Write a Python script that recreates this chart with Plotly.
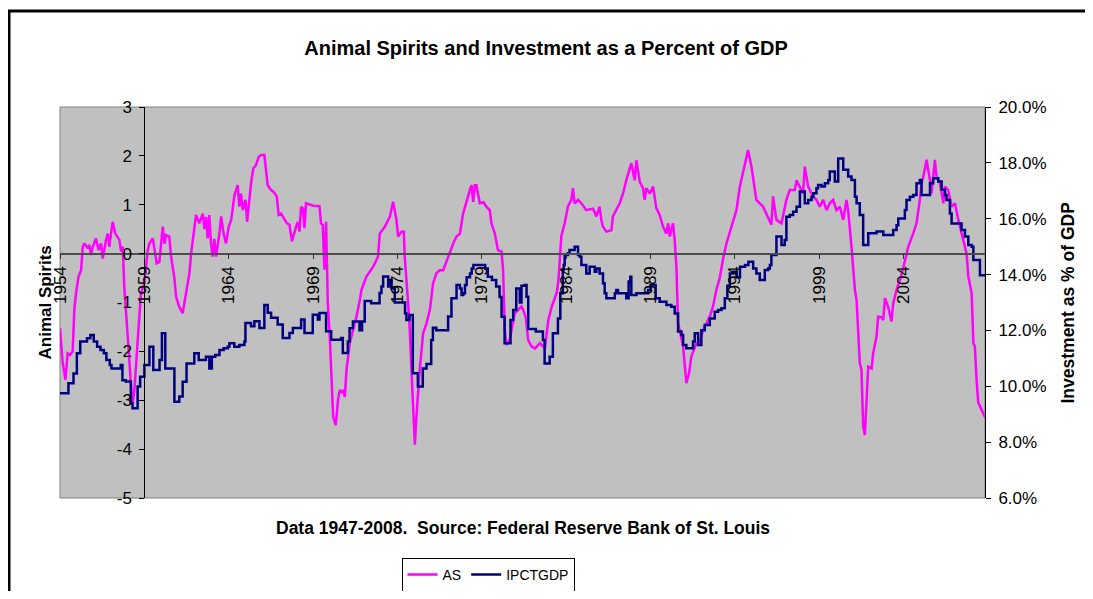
import plotly.graph_objects as go

# --------------------------------------------
# Data (year, value)
# --------------------------------------------
as_years = [
    1954.0, 1954.15, 1954.32, 1954.45, 1954.6, 1954.75, 1954.85, 1954.95, 1955.1, 1955.25,
    1955.35, 1955.45, 1955.64, 1955.74, 1955.84, 1955.94, 1956.13, 1956.29, 1956.43, 1956.53,
    1956.73, 1956.83, 1956.92, 1957.12, 1957.28, 1957.52, 1957.62, 1957.72, 1957.81, 1957.95,
    1958.07, 1958.21, 1958.31, 1958.41, 1958.5, 1958.7, 1958.8, 1959.0, 1959.1, 1959.2,
    1959.3, 1959.5, 1959.73, 1959.89, 1960.09, 1960.2, 1960.28, 1960.48, 1960.58, 1960.78,
    1960.88, 1961.07, 1961.27, 1961.47, 1961.67, 1961.77, 1961.96, 1962.06, 1962.26, 1962.46,
    1962.56, 1962.66, 1962.75, 1962.85, 1962.95, 1963.05, 1963.15, 1963.25, 1963.45, 1963.55,
    1963.7, 1963.84, 1964.0, 1964.15, 1964.34, 1964.53, 1964.63, 1964.73, 1964.83, 1964.99,
    1965.09, 1965.2, 1965.32, 1965.46, 1965.6, 1965.78, 1965.92, 1966.11, 1966.31, 1966.51,
    1966.7, 1966.85, 1966.96, 1967.1, 1967.3, 1967.45, 1967.6, 1967.75, 1967.99, 1968.1,
    1968.19, 1968.29, 1968.4, 1968.49, 1968.58, 1968.8, 1969.0, 1969.38, 1969.47, 1969.57,
    1969.67, 1969.77, 1969.87, 1969.99, 1970.09, 1970.19, 1970.34, 1970.48, 1970.58, 1970.68,
    1970.78, 1970.88, 1970.98, 1971.17, 1971.37, 1971.57, 1971.77, 1971.87, 1972.16, 1972.56,
    1972.85, 1972.95, 1973.25, 1973.55, 1973.74, 1973.94, 1974.04, 1974.24, 1974.38, 1974.43,
    1974.63, 1974.73, 1974.83, 1974.93, 1975.03, 1975.13, 1975.32, 1975.52, 1975.72, 1975.92,
    1976.11, 1976.31, 1976.51, 1976.71, 1977.0, 1977.3, 1977.5, 1977.7, 1977.89, 1978.1,
    1978.29, 1978.39, 1978.49, 1978.58, 1978.68, 1978.88, 1979.1, 1979.27, 1979.47, 1979.57,
    1979.77, 1979.96, 1980.17, 1980.26, 1980.36, 1980.46, 1980.65, 1980.95, 1981.15, 1981.35,
    1981.45, 1981.6, 1981.75, 1981.95, 1982.15, 1982.45, 1982.74, 1982.94, 1983.14, 1983.44,
    1983.54, 1983.71, 1983.91, 1984.1, 1984.3, 1984.4, 1984.5, 1984.7, 1984.9, 1985.19,
    1985.59, 1985.79, 1985.98, 1986.08, 1986.18, 1986.38, 1986.68, 1986.77, 1987.17, 1987.37,
    1987.56, 1987.86, 1988.06, 1988.16, 1988.36, 1988.55, 1988.65, 1988.75, 1988.95, 1989.15,
    1989.34, 1989.54, 1989.74, 1989.94, 1990.04, 1990.14, 1990.33, 1990.43, 1990.53, 1990.63,
    1990.93, 1991.12, 1991.28, 1991.42, 1991.72, 1991.91, 1992.11, 1992.51, 1992.7, 1992.9,
    1993.1, 1993.3, 1993.5, 1993.79, 1994.09, 1994.29, 1994.58, 1994.78, 1994.98, 1995.18,
    1995.27, 1995.67, 1995.87, 1996.16, 1996.26, 1996.46, 1996.76, 1997.05, 1997.25, 1997.55,
    1997.65, 1997.85, 1998.04, 1998.14, 1998.34, 1998.64, 1998.83, 1999.03, 1999.23, 1999.43,
    1999.62, 1999.82, 2000.02, 2000.22, 2000.42, 2000.61, 2000.71, 2000.91, 2001.01, 2001.11,
    2001.21, 2001.4, 2001.5, 2001.6, 2001.7, 2001.8, 2001.9, 2002.1, 2002.19, 2002.39,
    2002.49, 2002.69, 2002.79, 2002.89, 2003.08, 2003.28, 2003.38, 2003.58, 2003.78, 2003.97,
    2004.07, 2004.27, 2004.57, 2004.76, 2004.96, 2005.06, 2005.16, 2005.36, 2005.56, 2005.65,
    2005.85, 2005.95, 2006.15, 2006.35, 2006.45, 2006.64, 2006.84, 2007.04, 2007.24, 2007.43,
    2007.73, 2007.83, 2008.03, 2008.13, 2008.22, 2008.32, 2008.42, 2008.52, 2008.72, 2008.82,
]
as_values = [
    -1.53, -2.2, -2.58, -2.04, -2.07, -2.0, -1.15, -0.81, -0.47, -0.34,
    0.14, 0.21, 0.11, 0.18, -0.03, 0.14, 0.31, 0.07, 0.21, -0.10,
    0.28, 0.41, 0.14, 0.65, 0.41, 0.28, 0.04, 0.14, -0.68, -1.29,
    -1.97, -2.72, -3.06, -2.79, -2.24, -1.29, -0.81, -0.61, -0.27, 0.07,
    0.21, 0.31, -0.2, -0.17, 0.55, 0.2, 0.38, 0.35, -0.06, -0.5,
    -0.88, -1.09, -1.22, -0.82, -0.4, 0.0, 0.55, 0.79, 0.62, 0.82,
    0.5, 0.75, 0.31, 0.79, 0.2, -0.06, 0.3, -0.06, 0.42, 0.76,
    0.4, 0.21, 0.55, 0.7, 1.2, 1.4, 0.96, 1.23, 0.89, 1.10,
    0.65, 1.1, 1.43, 1.75, 1.8, 1.98, 2.02, 2.02, 1.4, 1.3,
    1.25, 1.16, 0.79, 0.82, 0.72, 0.62, 0.59, 0.25, 0.55, 0.65,
    0.45, 0.96, 0.92, 0.52, 1.03, 1.0, 0.98, 0.97, 0.62, 0.59,
    -0.33, 0.65, -1.0, -1.7, -2.72, -3.34, -3.51, -2.99, -2.79, -2.85,
    -2.79, -2.93, -2.38, -1.84, -1.56, -1.29, -0.95, -0.74, -0.47, -0.27,
    -0.06, 0.41, 0.55, 0.76, 1.06, 0.69, 0.35, 0.45, 0.45, -0.06,
    -1.0, -1.56, -2.38, -3.33, -3.91, -3.3, -2.38, -1.63, -1.43, -1.15,
    -0.61, -0.4, -0.34, -0.34, -0.06, 0.2, 0.35, 0.41, 0.82, 1.1,
    1.3, 1.4, 1.06, 1.4, 1.4, 1.03, 1.05, 0.96, 0.89, 0.62,
    0.41, 0.07, 0.04, -0.34, -1.56, -1.87, -1.77, -1.22, -1.15, -1.08,
    -1.15, -1.3, -1.77, -1.9, -1.94, -1.83, -1.94, -1.36, -1.09, -0.8,
    -0.54, 0.35, 0.62, 0.96, 1.1, 1.34, 1.03, 1.1, 1.03, 0.89,
    0.92, 0.76, 0.96, 0.69, 0.55, 0.45, 0.48, 0.76, 1.03, 1.23,
    1.5, 1.85, 1.5, 1.91, 1.47, 1.34, 1.1, 1.34, 1.23, 1.37,
    0.93, 0.79, 0.55, 0.41, 0.62, 0.35, 0.62, 0.28, -0.27, -1.42,
    -1.9, -2.65, -2.45, -2.1, -1.83, -1.83, -1.56, -1.29, -1.08, -0.74,
    -0.5, -0.1, 0.21, 0.55, 0.89, 1.37, 1.78, 2.12, 1.78, 1.23,
    1.1, 0.96, 0.82, 0.59, 1.17, 0.69, 0.62, 1.1, 1.3, 1.3,
    1.5, 1.37, 1.23, 1.78, 1.37, 1.16, 1.1, 0.96, 1.1, 0.89,
    1.03, 1.1, 0.89, 0.96, 0.69, 1.1, 0.89, 0.14, -0.27, -0.74,
    -0.95, -2.24, -2.38, -3.54, -3.71, -3.13, -2.31, -2.35, -2.04, -1.7,
    -1.29, -1.3, -1.36, -0.91, -1.09, -1.39, -1.02, -0.74, -0.54, -0.3,
    -0.15, 0.14, 0.42, 0.62, 1.1, 1.44, 1.57, 1.92, 1.5, 1.23,
    1.92, 1.57, 1.44, 1.03, 1.37, 1.3, 0.96, 1.03, 0.69, 0.42,
    0.0, -0.47, -0.81, -1.83, -1.9, -2.58, -3.05, -3.12, -3.28, -3.35,
]

# investment as % of GDP, stepped (quarterly data)
ip_years = [
    1954.0, 1954.5, 1954.8, 1955.0, 1955.2, 1955.6, 1955.8, 1956.0, 1956.2, 1956.4,
    1956.6, 1956.75, 1956.95, 1957.05, 1957.6, 1957.7, 1957.9, 1958.2, 1958.3, 1958.6,
    1958.75, 1959.0, 1959.3, 1959.53, 1959.9, 1960.04, 1960.24, 1960.78, 1961.07, 1961.27,
    1961.5, 1961.96, 1962.22, 1962.65, 1962.85, 1963.0, 1963.2, 1963.45, 1963.7, 1963.94,
    1964.04, 1964.33, 1964.63, 1964.93, 1964.99, 1965.32, 1965.52, 1965.82, 1966.11, 1966.31,
    1966.51, 1966.9, 1967.2, 1967.6, 1967.8, 1968.29, 1968.49, 1968.98, 1969.28, 1969.38,
    1969.77, 1970.07, 1970.66, 1970.76, 1971.06, 1971.16, 1971.36, 1971.75, 1971.9, 1972.06,
    1972.44, 1972.94, 1973.05, 1973.15, 1973.45, 1973.55, 1973.65, 1973.84, 1974.45, 1974.53,
    1974.71, 1974.91, 1975.21, 1975.5, 1975.72, 1976.0, 1976.1, 1976.3, 1977.0, 1977.2,
    1977.5, 1977.7, 1977.8, 1977.9, 1978.0, 1978.1, 1978.3, 1978.4, 1978.5, 1979.2,
    1979.35, 1979.6, 1979.85, 1980.05, 1980.17, 1980.35, 1980.7, 1980.86, 1981.04, 1981.25,
    1981.35, 1981.55, 1981.65, 1981.75, 1982.2, 1982.62, 1982.72, 1983.02, 1983.21, 1983.51,
    1983.65, 1983.8, 1983.85, 1983.91, 1984.1, 1984.2, 1984.5, 1984.7, 1984.8, 1984.9,
    1985.19, 1985.39, 1985.69, 1985.79, 1985.98, 1986.18, 1986.28, 1986.38, 1986.88, 1986.97,
    1987.07, 1987.56, 1987.7, 1987.8, 1987.86, 1988.16, 1988.85, 1989.0, 1989.3, 1989.54,
    1989.94, 1990.23, 1990.43, 1990.63, 1990.83, 1990.93, 1991.12, 1991.52, 1991.62, 1991.82,
    1992.01, 1992.21, 1992.51, 1992.8, 1993.0, 1993.2, 1993.4, 1993.55, 1993.7, 1993.9,
    1994.1, 1994.3, 1994.6, 1994.8, 1995.08, 1995.27, 1995.47, 1995.77, 1995.97, 1996.07,
    1996.16, 1996.46, 1996.76, 1996.95, 1997.05, 1997.25, 1997.45, 1997.65, 1997.85, 1998.14,
    1998.34, 1998.54, 1998.64, 1998.83, 1998.93, 1999.13, 1999.33, 1999.53, 1999.62, 1999.92,
    2000.12, 2000.42, 2000.71, 2000.91, 2001.11, 2001.21, 2001.4, 2001.6, 2001.9, 2002.39,
    2002.79, 2003.38, 2003.58, 2003.68, 2004.07, 2004.17, 2004.37, 2004.57, 2004.76, 2004.96,
    2005.06, 2005.56, 2005.75, 2006.05, 2006.25, 2006.45, 2006.54, 2006.74, 2006.84, 2007.43,
    2007.63, 2007.83, 2008.03, 2008.13, 2008.52, 2008.82,
]
ip_values = [
    9.75, 10.11, 10.46, 11.18, 11.6, 11.72, 11.84, 11.6, 11.42, 11.3,
    11.18, 10.94, 10.76, 10.64, 10.76, 10.22, 10.17, 9.39, 9.21, 9.99,
    10.34, 10.76, 11.42, 10.58, 10.94, 11.9, 10.64, 9.45, 9.63, 10.16,
    10.82, 11.18, 10.94, 11.06, 10.64, 11.06, 11.12, 11.3, 11.36, 11.42,
    11.54, 11.42, 11.48, 11.6, 12.27, 12.15, 12.33, 12.09, 12.91, 12.63,
    12.45, 12.21, 11.73, 11.91, 12.09, 12.39, 11.91, 12.56, 12.39, 12.62,
    11.97, 11.67, 11.73, 11.19, 11.6, 12.08, 12.32, 12.01, 12.32, 13.05,
    12.97, 13.34, 13.57, 13.93, 13.57, 13.81, 13.5, 13.0, 12.61, 12.37,
    12.55, 10.47, 9.99, 10.64, 10.8, 11.66, 12.1, 12.01, 12.5, 13.15,
    13.63, 13.5, 13.27, 13.33, 13.63, 13.9, 14.04, 14.22, 14.34, 14.22,
    13.92, 13.81, 13.57, 13.2, 12.49, 11.54, 12.37, 12.73, 13.5, 13.0,
    13.6, 13.63, 13.21, 12.05, 11.96, 11.66, 10.82, 11.06, 11.9, 12.43,
    13.33, 14.16, 14.34, 14.7, 14.76, 14.88, 15.0, 14.7, 14.64, 14.34,
    14.04, 14.28, 14.1, 14.22, 14.04, 13.69, 13.33, 13.15, 13.33, 13.45,
    13.33, 13.15, 13.75, 13.92, 13.27, 13.33, 13.45, 13.63, 13.15, 13.03,
    12.91, 12.85, 12.61, 11.96, 11.84, 11.48, 11.36, 11.6, 11.9, 11.48,
    12.01, 12.19, 12.43, 12.67, 12.73, 12.79, 13.15, 13.6, 14.04, 14.1,
    13.9, 14.28, 14.34, 14.46, 14.22, 14.04, 13.81, 14.16, 14.22, 14.34,
    14.7, 15.36, 15.06, 15.24, 16.07, 16.13, 16.25, 16.43, 16.97, 16.55,
    16.67, 16.79, 16.91, 17.09, 17.21, 17.15, 17.27, 17.39, 17.69, 17.33,
    18.16, 17.75, 17.51, 17.39, 16.79, 16.55, 16.13, 15.06, 15.48, 15.54,
    15.42, 15.6, 15.77, 16.01, 16.31, 16.67, 16.79, 16.85, 17.27, 17.39,
    16.85, 17.27, 17.45, 17.33, 17.04, 16.85, 16.67, 16.19, 15.83, 15.6,
    15.36, 15.06, 15.0, 14.52, 13.98, 13.98,
]

year_ticks = [1954, 1959, 1964, 1969, 1974, 1979, 1984, 1989, 1994, 1999, 2004]
as_ticks = [-5, -4, -3, -2, -1, 0, 1, 2, 3]

x_range = [1954, 2008.82]
as_range = [-5, 3]
ip_range = [0.06, 0.20]

font_name = "Liberation Sans, Arial, sans-serif"

# the page body keeps its 8px margin, so the figure is 16px smaller than the window
W, H = 1077, 583
PLOT_L, PLOT_R, PLOT_T, PLOT_B = 52, 977, 99, 490
PW, PH = PLOT_R - PLOT_L, PLOT_B - PLOT_T


def px(x):
    # figure pixel -> paper x
    return (x - PLOT_L) / PW


def py(y):
    # figure pixel -> paper y
    return (PLOT_B - y) / PH


# --------------------------------------------
# Figure
# --------------------------------------------
fig = go.Figure()
fig.add_trace(go.Scatter(
    x=as_years, y=as_values, name="AS", mode="lines",
    line=dict(color="#FF00FF", width=2.5),
))
fig.add_trace(go.Scatter(
    x=ip_years, y=[v / 100 for v in ip_values], name="IPCTGDP", mode="lines",
    line=dict(color="#000080", width=2.5, shape="hv"), yaxis="y2",
))

# the value axis crosses the category axis at 1959, the category axis sits at 0
y_cross = (1959 - x_range[0]) / (x_range[1] - x_range[0])
x_cross = (0 - as_range[0]) / (as_range[1] - as_range[0])

tick_common = dict(ticklen=5, showgrid=False, zeroline=False, tickfont=dict(size=17))

fig.update_layout(
    width=W, height=H,
    margin=dict(l=PLOT_L, r=W - PLOT_R, t=PLOT_T, b=H - PLOT_B, autoexpand=False),
    paper_bgcolor="white",
    plot_bgcolor="#C0C0C0",
    font=dict(family=font_name, size=17, color="black"),
    title=dict(
        text="<b>Animal Spirits and Investment as a Percent of GDP</b>",
        x=538 / W, xanchor="center", y=1 - 40 / H, yanchor="middle",
        font=dict(size=20),
    ),
    xaxis=dict(
        range=x_range, anchor="free", position=x_cross,
        tickvals=year_ticks, ticktext=[str(t) for t in year_ticks],
        tickangle=-90, ticks="outside", tickcolor="#333333",
        showline=True, linecolor="#4d4d4d", linewidth=1.5, **tick_common,
    ),
    # second copy of the category axis only for the upper half of the crossing ticks
    xaxis2=dict(
        range=x_range, anchor="free", position=x_cross, overlaying="x",
        tickvals=year_ticks, ticks="inside", tickcolor="#333333",
        showticklabels=False, showline=False, **tick_common,
    ),
    yaxis=dict(
        range=as_range, tickvals=as_ticks, ticktext=[str(t) for t in as_ticks],
        anchor="free", position=y_cross,
        ticks="outside", tickcolor="black", ticklabelstandoff=4,
        showline=True, linecolor="black", linewidth=1, **tick_common,
    ),
    yaxis3=dict(
        range=as_range, tickvals=as_ticks, anchor="free", position=y_cross,
        overlaying="y", ticks="inside", tickcolor="black",
        showticklabels=False, showline=False, **tick_common,
    ),
    yaxis2=dict(
        range=ip_range, dtick=0.02, tickformat=".1%", overlaying="y",
        side="right", anchor="x",
        ticks="outside", tickcolor="black", ticklabelstandoff=4,
        showline=True, linecolor="black", linewidth=1, **tick_common,
    ),
    legend=dict(
        orientation="h", xref="paper", x=px(480), xanchor="center",
        yref="container", y=1 - 567 / H, yanchor="middle",
        bordercolor="black", borderwidth=1, bgcolor="white",
        font=dict(size=14), itemwidth=30, traceorder="normal",
    ),
    showlegend=True,
)

# axis titles and source note
fig.add_annotation(
    text="<b>Animal Spirits</b>", xref="paper", yref="paper",
    x=px(37), y=0.5, textangle=-90, showarrow=False,
    font=dict(size=17), xanchor="center", yanchor="middle",
)
fig.add_annotation(
    text="<b>Investment as % of GDP</b>", xref="paper", yref="paper",
    x=px(1059), y=0.5, textangle=-90, showarrow=False,
    font=dict(size=17.5), xanchor="center", yanchor="middle",
)
fig.add_annotation(
    text="<b>Data 1947-2008.\u00a0\u00a0Source: Federal Reserve Bank of St. Louis</b>",
    xref="paper", yref="paper", x=0.5, y=py(520), showarrow=False,
    font=dict(size=17.5), xanchor="center", yanchor="middle",
)

# plot area border and outer chart frame
fig.add_shape(type="rect", xref="paper", yref="paper", x0=0, y0=0, x1=1, y1=1,
              line=dict(color="#808080", width=1), layer="below")
fig.add_shape(type="rect", xref="paper", yref="paper",
              x0=px(1), y0=py(620), x1=px(1120), y1=py(3),
              line=dict(color="black", width=3), layer="above")

fig.write_html("out.html")
